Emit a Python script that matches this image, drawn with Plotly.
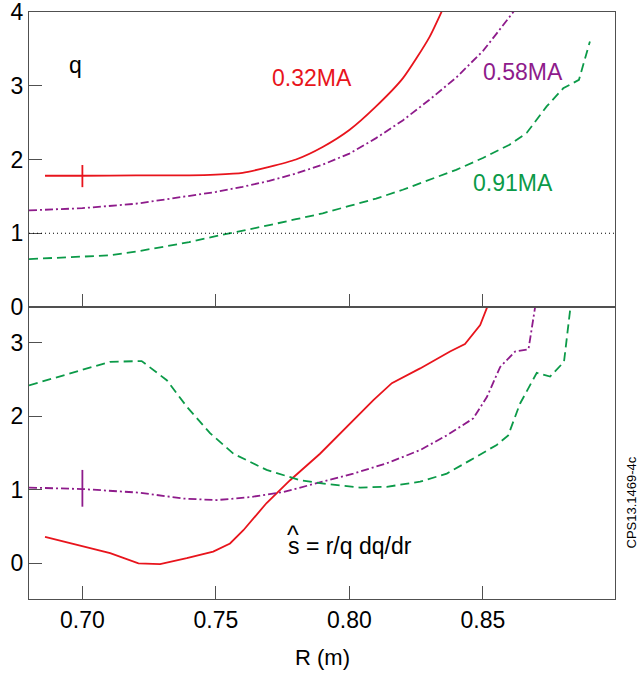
import plotly.graph_objects as go

# ---------------- data ----------------
R_q_red = [0.686, 0.70, 0.72, 0.74, 0.75, 0.76, 0.77, 0.78, 0.79, 0.80, 0.81, 0.82, 0.83, 0.836]
q_red = [1.78, 1.78, 1.785, 1.785, 1.795, 1.82, 1.90, 2.00, 2.17, 2.40, 2.72, 3.10, 3.66, 4.12]

R_q_purple = [0.68, 0.70, 0.72, 0.74, 0.75, 0.76, 0.77, 0.78, 0.79, 0.80, 0.81, 0.82, 0.83,
              0.84, 0.85, 0.855, 0.8614, 0.863]
q_purple = [1.31, 1.34, 1.40, 1.50, 1.56, 1.63, 1.71, 1.81, 1.93, 2.08, 2.29, 2.53, 2.81,
            3.11, 3.47, 3.70, 4.0, 4.1]

R_q_green = [0.68, 0.70, 0.71, 0.72, 0.73, 0.74, 0.75, 0.76, 0.77, 0.78, 0.79, 0.80, 0.81,
             0.82, 0.83, 0.84, 0.85, 0.86, 0.8664, 0.8739, 0.8801, 0.886, 0.8901]
q_green = [0.65, 0.68, 0.70, 0.75, 0.81, 0.88, 0.96, 1.03, 1.11, 1.19, 1.27, 1.37, 1.47,
           1.59, 1.72, 1.86, 2.02, 2.20, 2.36, 2.72, 2.965, 3.08, 3.60]

R_s_red = [0.686, 0.70, 0.7104, 0.721, 0.7291, 0.7391, 0.749, 0.7553, 0.7603, 0.769, 0.7778,
           0.789, 0.799, 0.809, 0.8159, 0.8265, 0.8377, 0.8433, 0.849, 0.8517, 0.8525]
s_red = [0.36, 0.23, 0.14, 0.0, -0.01, 0.07, 0.16, 0.27, 0.45, 0.82, 1.13,
         1.49, 1.86, 2.22, 2.45, 2.65, 2.88, 2.98, 3.24, 3.49, 3.6]

R_s_purple = [0.68, 0.70, 0.7216, 0.7378, 0.7503, 0.7628, 0.7753, 0.789, 0.8015, 0.814,
              0.8265, 0.8365, 0.8464, 0.8515, 0.8565, 0.8621, 0.8671, 0.8696, 0.870]
s_purple = [1.03, 1.01, 0.96, 0.88, 0.86, 0.90, 0.97, 1.10, 1.22, 1.36,
            1.54, 1.74, 1.97, 2.26, 2.67, 2.88, 2.91, 3.49, 3.6]

R_s_green = [0.68, 0.7104, 0.7222, 0.7316, 0.7391, 0.7478, 0.7566, 0.769, 0.7815, 0.789,
             0.804, 0.814, 0.8265, 0.8365, 0.8452, 0.8552, 0.8595, 0.8639, 0.8702, 0.8752,
             0.8804, 0.8826, 0.8832]
s_green = [2.42, 2.74, 2.75, 2.49, 2.13, 1.77, 1.49, 1.27, 1.13, 1.09,
           1.03, 1.04, 1.11, 1.22, 1.40, 1.61, 1.74, 2.17, 2.59, 2.54,
           2.74, 3.49, 3.6]

# error-bar markers
err_red_R, err_red_q, err_red_dq = [0.70], [1.775], [0.15]
err_pur_R, err_pur_s, err_pur_ds = [0.70], [1.02], [0.25]

labels_q = ["0.32MA", "0.58MA", "0.91MA"]

RED = "#e8141c"
PURPLE = "#8e1b8b"
GREEN = "#0b9a48"
AX = "#505050"
FONT = "Liberation Sans, Arial, sans-serif"

fig = go.Figure()
lw = 1.8
fig.add_trace(go.Scatter(x=R_q_red, y=q_red, mode="lines",
                         line=dict(color=RED, width=lw, shape="spline", smoothing=0.6),
                         xaxis="x2", yaxis="y2", showlegend=False))
fig.add_trace(go.Scatter(x=R_q_purple, y=q_purple, mode="lines",
                         line=dict(color=PURPLE, width=lw, dash="8px,3px,2px,3px"),
                         xaxis="x2", yaxis="y2", showlegend=False))
fig.add_trace(go.Scatter(x=R_q_green, y=q_green, mode="lines",
                         line=dict(color=GREEN, width=lw, dash="9px,5px"),
                         xaxis="x2", yaxis="y2", showlegend=False))
fig.add_trace(go.Scatter(x=err_red_R, y=err_red_q, mode="markers",
                         marker=dict(size=1, color=RED, opacity=0),
                         error_y=dict(type="data", array=err_red_dq, color=RED, thickness=1.8, width=0),
                         xaxis="x2", yaxis="y2", showlegend=False))

fig.add_trace(go.Scatter(x=R_s_red, y=s_red, mode="lines", line=dict(color=RED, width=lw),
                         xaxis="x", yaxis="y", showlegend=False))
fig.add_trace(go.Scatter(x=R_s_purple, y=s_purple, mode="lines",
                         line=dict(color=PURPLE, width=lw, dash="8px,3px,2px,3px"),
                         xaxis="x", yaxis="y", showlegend=False))
fig.add_trace(go.Scatter(x=R_s_green, y=s_green, mode="lines",
                         line=dict(color=GREEN, width=lw, dash="9px,5px"),
                         xaxis="x", yaxis="y", showlegend=False))
fig.add_trace(go.Scatter(x=err_pur_R, y=err_pur_s, mode="markers",
                         marker=dict(size=1, color=PURPLE, opacity=0),
                         error_y=dict(type="data", array=err_pur_ds, color=PURPLE, thickness=1.8, width=0),
                         xaxis="x", yaxis="y", showlegend=False))

split = 292 / 587
xr = [0.68, 0.8995]
common_ax = dict(showline=True, linecolor=AX, linewidth=1.3, mirror=True, ticks="inside",
                 ticklen=13, tickcolor=AX, tickwidth=1.2, showgrid=False, zeroline=False,
                 automargin=False, ticklabeloverflow="allow",
                 tickfont=dict(family=FONT, size=23, color="black"))

fig.update_layout(
    width=639, height=675,
    margin=dict(l=29, r=24, t=12, b=76),
    plot_bgcolor="white", paper_bgcolor="white",
    xaxis=dict(range=xr, domain=[0, 1], anchor="y", tickvals=[0.70, 0.75, 0.80, 0.85],
               ticktext=["0.70", "0.75", "0.80", "0.85"], **common_ax),
    yaxis=dict(range=[-0.485, 3.485], domain=[0, split], anchor="x",
               tickvals=[0, 1, 2, 3], ticklabelstandoff=0, **common_ax),
    xaxis2=dict(range=xr, domain=[0, 1], anchor="y2", tickvals=[0.70, 0.75, 0.80, 0.85],
                showticklabels=False, **common_ax),
    yaxis2=dict(range=[0, 4], domain=[split, 1], anchor="x2",
                tickvals=[0, 1, 2, 3, 4], ticklabelstandoff=0, **common_ax),
)

fig.add_shape(type="line", xref="x2", yref="y2", x0=xr[0], x1=xr[1], y0=1, y1=1,
              line=dict(color="black", width=1, dash="1px,3px"))

ann_font = dict(family=FONT, size=23)
fig.add_annotation(x=0.6973, y=3.28, xref="x2", yref="y2", text="q", showarrow=False,
                   font=dict(color="black", **ann_font))
fig.add_annotation(x=0.786, y=3.105, xref="x2", yref="y2", text=labels_q[0], showarrow=False,
                   font=dict(color=RED, **ann_font))
fig.add_annotation(x=0.8652, y=3.19, xref="x2", yref="y2", text=labels_q[1], showarrow=False,
                   font=dict(color=PURPLE, **ann_font))
fig.add_annotation(x=0.8613, y=1.68, xref="x2", yref="y2", text=labels_q[2], showarrow=False,
                   font=dict(color=GREEN, **ann_font))
fig.add_annotation(x=0.7763, y=0.235, xref="x", yref="y", text="s = r/q dq/dr", showarrow=False,
                   xanchor="left", font=dict(color="black", **ann_font))
fig.add_annotation(x=0.7787, y=0.38, xref="x", yref="y", text="^", showarrow=False,
                   font=dict(color="black", family=FONT, size=25))
fig.add_annotation(x=(621 - 29) / 586, y=(599 - 551) / 587, xref="paper", yref="paper",
                   text="CPS13.1469-4c", showarrow=False, textangle=-90,
                   font=dict(color="black", family=FONT, size=13), xanchor="left")
fig.add_annotation(x=0.5, y=(599 - 657) / 587, xref="paper", yref="paper", text="R (m)",
                   showarrow=False, font=dict(color="black", family=FONT, size=22), yanchor="middle")

fig.write_html("out.html", config={"displayModeBar": False},
               post_script="document.body.style.margin='0';")
